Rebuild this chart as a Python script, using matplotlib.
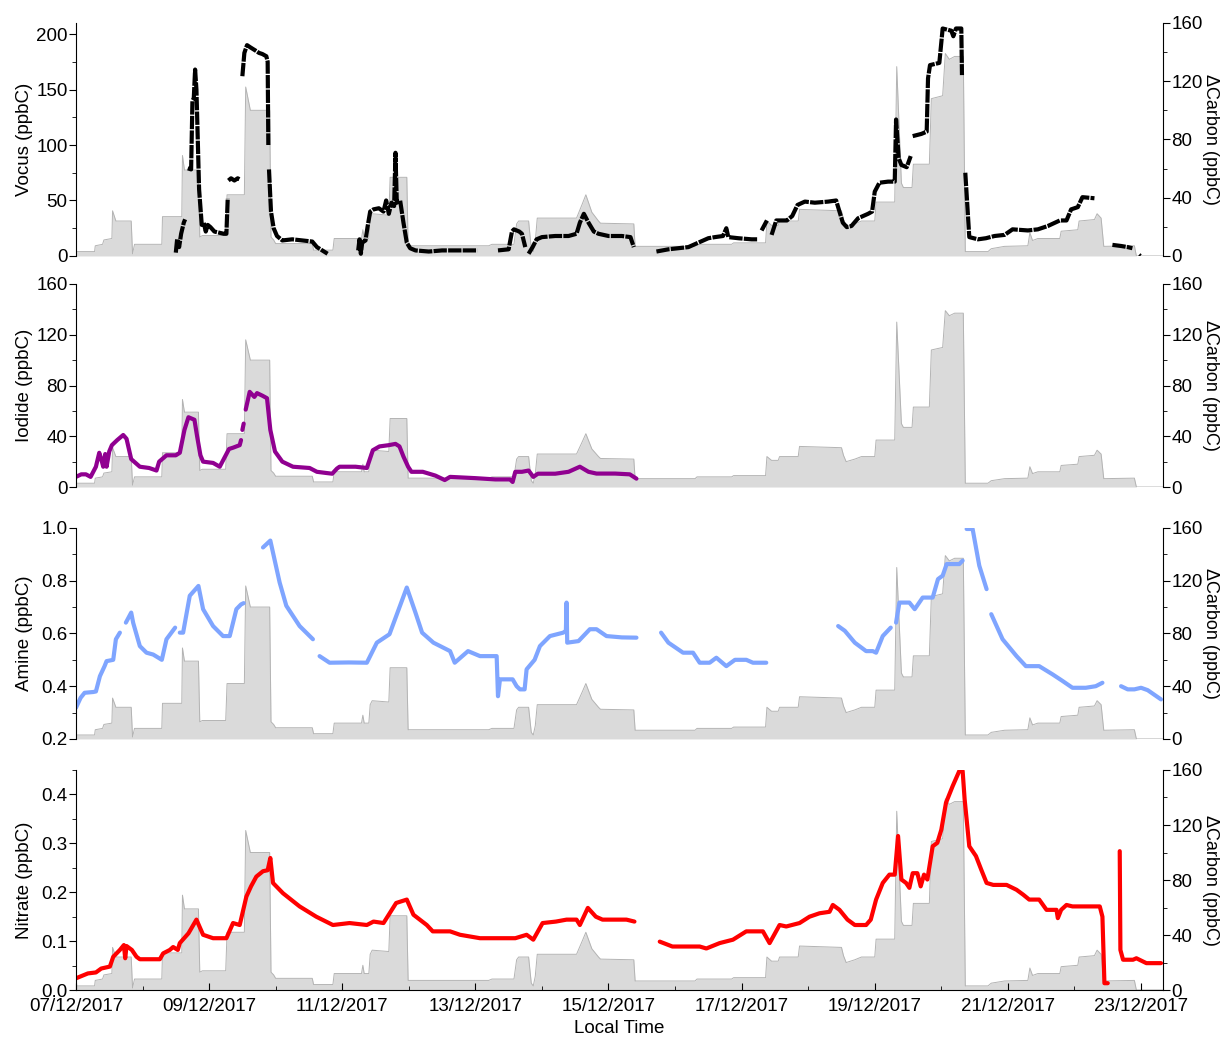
import numpy as np
import pandas as pd
import matplotlib
matplotlib.use('Agg')
import matplotlib.pyplot as plt
import matplotlib.dates as mdates
from matplotlib.ticker import AutoMinorLocator, MultipleLocator, FormatStrFormatter

plt.rcParams['font.family'] = ['Liberation Sans', 'DejaVu Sans']
plt.rcParams['font.size'] = 13.5

nan = np.nan
T0 = pd.Timestamp('2017-12-07')

# dCarbon (ppbC), days since 07/12/2017 00:00
carbon_t = [0.00, 0.28, 0.29, 0.40, 0.42, 0.54, 0.55, 0.60, 0.83, 0.85, 0.88, 1.29, 1.30, 1.59, 1.60, 1.63,
            1.84, 1.86, 1.90, 2.25, 2.27, 2.53, 2.55, 2.62, 2.91, 2.93, 2.97, 3.00, 3.55, 3.57, 3.86, 3.88,
            4.29, 4.31, 4.33, 4.40, 4.42, 4.45, 4.70, 4.72, 4.97, 4.99, 6.20, 6.25, 6.58, 6.62, 6.65, 6.80,
            6.84, 6.87, 6.90, 6.93, 7.52, 7.60, 7.66, 7.75, 7.85, 7.88, 8.38, 8.40, 9.30, 9.33, 9.85, 9.88,
            10.36, 10.38, 10.45, 10.55, 10.57, 10.85, 10.87, 11.50, 11.53, 11.57, 11.70, 11.80, 12.00, 12.02,
            12.30, 12.33, 12.40, 12.43, 12.56, 12.58, 12.82, 12.85, 13.02, 13.06, 13.12, 13.20, 13.33, 13.36,
            13.70, 13.75, 13.95, 14.30, 14.33, 14.37, 14.45, 14.78, 14.80, 15.05, 15.07, 15.30, 15.34, 15.40,
            15.44, 15.90, 15.93, 16.33]
carbon_v = [3, 3, 7, 8, 11, 12, 31, 24, 24, 1.5, 8, 8, 27, 27, 69, 59,
            59, 13, 14, 14, 42, 42, 116, 100, 100, 13, 11, 8.5, 8.5, 4, 4, 12,
            12, 18, 12, 12, 26, 29, 28, 54, 54, 7, 7, 8, 8, 22, 24, 24,
            5, 3, 10, 26, 26, 35, 42, 30, 24, 22.5, 22, 6.6, 6.6, 8, 8, 9,
            9, 24, 21, 21, 24, 24, 32, 31, 25, 20, 22, 24, 24, 37,
            37, 130, 50, 47, 47, 63, 63, 108, 110, 139, 135, 137, 137, 3,
            3, 5, 6.6, 7, 16, 10.6, 12, 12, 17, 18, 24, 25, 29, 26,
            6.6, 7, 0, 0]

vocus_t = [1.50, 1.52, 1.55, 1.58, 1.62, 1.64, nan,
           1.68, 1.73, 1.75, 1.77, 1.79, 1.81, 1.85, 1.89, 1.92, 1.95, 1.98, 2.02, 2.08, 2.15, 2.22, 2.26, 2.28, nan,
           2.29, 2.33, 2.38, 2.43, 2.46, nan,
           2.50, 2.53, 2.57, 2.62, 2.70, 2.75, 2.80, 2.86, 2.88, 2.89, nan,
           2.90, 2.93, 2.97, 3.02, 3.10, 3.25, 3.40, 3.55, 3.62, 3.70, 3.78, nan,
           4.24, 4.26, 4.28, 4.30, 4.35, 4.38, 4.42, 4.47, 4.55, 4.62, 4.66, 4.70, 4.74, 4.78, 4.80, 4.82, 4.87,
           4.92, 4.97, 5.02, 5.10, 5.30, 5.50, 5.80, 6.03, nan,
           6.34, 6.50, 6.55, 6.58, 6.66, 6.70, 6.75, nan,
           6.80, 6.86, 6.92, 7.00, 7.20, 7.40, 7.52, 7.57, 7.63, 7.70, 7.78, 7.85, 8.00, 8.20, 8.33, 8.38, nan,
           8.72, 8.90, 9.05, 9.20, 9.35, 9.50, 9.60, 9.72, 9.77, 9.80, 9.95, 10.15, 10.25, nan,
           10.30, 10.38, nan,
           10.45, 10.52, 10.68, 10.76, 10.84, 10.95, 11.10, 11.30, 11.42, 11.47, 11.52, 11.58, 11.65, 11.75,
           11.90, 11.96, 12.00, 12.07, 12.20, 12.30, 12.32, 12.36, 12.40, 12.48, 12.54, nan,
           12.57, 12.70, 12.78, 12.80, 12.83, 12.97, 13.02, 13.15, 13.18, 13.22, 13.30, 13.31, nan,
           13.36, 13.42, 13.55, 13.67, 13.80, 13.95, 14.07, 14.30, 14.45, 14.60, 14.78, 14.88, 14.95, 15.05,
           15.12, 15.30, nan,
           15.57, 15.70, 15.80, 15.87, nan, 15.97, 15.99]
vocus_v = [3, 15, 8, 20, 30, 33, nan,
           79, 78, 140, 142, 168, 150, 60, 28, 30, 22, 28, 26, 22, 21, 20, 20, 52, nan,
           68, 70, 68, 70, 69, nan,
           162, 183, 190, 188, 185, 183, 182, 180, 175, 100, nan,
           78, 40, 25, 18, 14, 15, 14, 13, 8, 5, 2, nan,
           5, 15, 2, 12, 14, 26, 40, 42, 43, 40, 50, 38, 48, 45, 93, 48, 50,
           30, 12, 7, 5, 4, 5, 5, 5, nan,
           5, 6, 22, 24, 22, 20, 8, nan,
           2, 8, 15, 17, 18, 18, 20, 30, 38, 30, 22, 20, 18, 18, 17, 8, nan,
           4, 6, 7, 8, 12, 16, 17, 18, 25, 17, 16, 15, 15, nan,
           23, 32, nan,
           19, 32, 32, 36, 46, 49, 48, 49, 50, 40, 30, 26, 27, 34,
           38, 40, 58, 66, 67, 67, 123, 88, 82, 80, 90, nan,
           108, 110, 112, 160, 172, 174, 205, 203, 198, 205, 205, 163, nan,
           75, 17, 15, 16, 18, 19, 24, 23, 24, 27, 32, 32, 42, 44,
           53, 52, nan,
           10, 9, 8, 7, nan, 1, 0]

iodide_t = [0.00, 0.08, 0.15, 0.22, 0.30, 0.35, 0.38, 0.41, 0.44, 0.46, 0.50, 0.54, 0.62, 0.71, 0.76, 0.83,
            0.96, 1.10, 1.21, 1.25, 1.36, 1.50, 1.56, 1.63, 1.69, 1.78, 1.82, 1.87, 1.91, 2.06, 2.16, 2.22,
            2.30, 2.36, 2.46, 2.48, nan, 2.50, 2.52, nan, 2.55, 2.61, 2.68, 2.72, 2.80, 2.87, 2.92, 2.99,
            3.10, 3.26, 3.51, 3.62, 3.77, 3.85, 3.92, 3.96, 4.20, 4.37, 4.46, 4.56, 4.70, 4.80, 4.86, 4.92,
            4.99, 5.04, 5.21, 5.40, 5.54, 5.62, 6.00, 6.30, 6.52, 6.56, 6.60, 6.70, 6.80, 6.87, 6.94, 7.20,
            7.40, 7.57, 7.70, 7.82, 8.10, 8.32, 8.42]
iodide_v = [8, 10, 10, 8, 16, 27, 22, 16, 26, 16, 28, 33, 37, 41, 38, 22,
            16, 15, 13, 20, 25, 25, 27, 45, 55, 53, 40, 25, 20, 19, 16, 22,
            30, 31, 33, 37, nan, 45, 50, nan, 61, 75, 71, 74, 72, 70, 45, 28,
            20, 16, 15, 12, 11, 10.5, 14.5, 16, 16, 15, 29, 32, 33, 34, 32, 24,
            16, 12, 12, 9, 5.5, 8, 7, 6, 6, 4, 12, 12, 13, 8, 10.5, 10.5,
            12, 16, 12, 10.6, 10.6, 10, 6.6]

amine_t = [0.00, 0.07, 0.13, 0.26, 0.30, 0.36, 0.43, 0.46, 0.56, 0.60, 0.66, nan,
           0.75, 0.83, 0.86, 0.96, 1.06, 1.16, 1.29, 1.36, 1.49, nan,
           1.56, 1.61, 1.71, 1.84, 1.91, 2.06, 2.21, 2.31, 2.41, 2.48, 2.52, nan,
           2.81, 2.92, 3.06, 3.16, 3.36, 3.56, nan,
           3.66, 3.81, 4.10, 4.37, 4.52, 4.71, 4.97, 5.10, 5.20, 5.37, 5.62, 5.69, 5.89, 6.07, 6.32, 6.34,
           6.37, 6.56, 6.62, 6.67, 6.74, 6.77, 6.89, 6.97, 7.12, 7.32, 7.36, 7.37, 7.38, 7.55, 7.72, 7.82,
           7.97, 8.20, 8.42, nan,
           8.79, 8.90, 9.12, 9.27, 9.37, 9.52, 9.62, 9.77, 9.90, 10.07, 10.17, 10.37, nan,
           11.45, 11.55, 11.70, 11.87, 11.97, 12.02, 12.12, 12.24, nan,
           12.32, 12.37, 12.52, 12.60, 12.72, 12.87, 12.95, 13.02, 13.08, 13.27, 13.32, nan,
           13.38, 13.47, 13.57, 13.68, nan,
           13.75, 13.92, 14.13, 14.27, 14.47, 14.67, 14.82, 14.97, 15.17, 15.32, 15.42, nan,
           15.70, 15.80, 15.90, 16.00, 16.10, 16.30]
amine_v = [0.318, 0.356, 0.375, 0.378, 0.38, 0.438, 0.476, 0.495, 0.50, 0.578, 0.603, nan,
           0.641, 0.679, 0.64, 0.552, 0.527, 0.52, 0.50, 0.578, 0.622, nan,
           0.603, 0.603, 0.743, 0.78, 0.692, 0.628, 0.59, 0.59, 0.692, 0.71, 0.715, nan,
           0.926, 0.952, 0.793, 0.705, 0.628, 0.578, nan,
           0.514, 0.489, 0.49, 0.489, 0.565, 0.597, 0.774, 0.679, 0.603, 0.565, 0.533, 0.489, 0.533, 0.514, 0.514, 0.362,
           0.426, 0.426, 0.40, 0.388, 0.388, 0.464, 0.50, 0.552, 0.59, 0.603, 0.61, 0.717, 0.565, 0.571, 0.616, 0.616,
           0.59, 0.585, 0.584, nan,
           0.603, 0.565, 0.527, 0.527, 0.489, 0.489, 0.508, 0.476, 0.50, 0.50, 0.489, 0.489, nan,
           0.628, 0.61, 0.565, 0.533, 0.533, 0.527, 0.59, 0.622, nan,
           0.641, 0.717, 0.717, 0.692, 0.736, 0.736, 0.806, 0.819, 0.863, 0.863, 0.876, nan,
           0.996, 0.996, 0.857, 0.768, nan,
           0.673, 0.578, 0.514, 0.476, 0.476, 0.445, 0.42, 0.394, 0.394, 0.40, 0.413, nan,
           0.40, 0.388, 0.388, 0.394, 0.385, 0.35]

nitrate_t = [0.00, 0.18, 0.30, 0.38, 0.51, 0.56, 0.66, 0.72, 0.74, 0.76, 0.84, 0.91, 0.96, 1.26, 1.31, 1.41,
             1.46, 1.53, 1.56, 1.69, 1.81, 1.91, 2.06, 2.26, 2.36, 2.46, 2.56, 2.63, 2.71, 2.81, 2.88, 2.92,
             2.96, 3.11, 3.36, 3.61, 3.86, 4.11, 4.37, 4.47, 4.62, 4.81, 4.97, 5.07, 5.27, 5.36, 5.62, 5.77,
             6.07, 6.60, 6.77, 6.87, 7.01, 7.21, 7.37, 7.52, 7.57, 7.69, 7.81, 7.91, 8.27, 8.39, nan,
             8.77, 8.96, 9.37, 9.47, 9.67, 9.87, 10.07, 10.32, 10.42, 10.57, 10.67, 10.87, 11.02, 11.17, 11.32,
             11.37, 11.47, 11.59, 11.70, 11.87, 11.94, 12.02, 12.12, 12.22, 12.30, 12.35, 12.40, 12.47, 12.52,
             12.57, 12.64, 12.69, 12.74, 12.79, 12.87, 12.94, 13.00, 13.07, 13.17, 13.27, 13.32, 13.35, 13.42,
             13.52, 13.60, 13.68, 13.78, 13.98, 14.13, 14.23, 14.32, 14.47, 14.58, 14.73, 14.75, 14.80, 14.88,
             14.97, 15.38, 15.42, 15.45, 15.50, nan,
             15.68, 15.69, 15.73, 15.88, 15.93, 16.08, 16.30]
nitrate_v = [0.024, 0.034, 0.036, 0.044, 0.048, 0.068, 0.082, 0.092, 0.065, 0.09, 0.082, 0.068, 0.063, 0.063, 0.075, 0.082,
             0.088, 0.082, 0.096, 0.116, 0.144, 0.113, 0.106, 0.106, 0.137, 0.133, 0.191, 0.212, 0.232, 0.243, 0.245, 0.27,
             0.219, 0.198, 0.171, 0.15, 0.133, 0.137, 0.133, 0.14, 0.137, 0.178, 0.185, 0.154, 0.133, 0.12, 0.12, 0.113,
             0.106, 0.106, 0.113, 0.103, 0.137, 0.14, 0.144, 0.144, 0.133, 0.168, 0.15, 0.144, 0.144, 0.14, nan,
             0.099, 0.089, 0.089, 0.085, 0.096, 0.103, 0.12, 0.12, 0.096, 0.133, 0.13, 0.137, 0.15, 0.157, 0.16,
             0.174, 0.164, 0.144, 0.133, 0.133, 0.144, 0.185, 0.219, 0.236, 0.236, 0.315, 0.226, 0.219, 0.209,
             0.239, 0.239, 0.212, 0.236, 0.226, 0.294, 0.301, 0.328, 0.383, 0.417, 0.448, 0.448, 0.39, 0.294,
             0.274, 0.246, 0.219, 0.215, 0.215, 0.205, 0.195, 0.185, 0.185, 0.164, 0.164, 0.147, 0.164, 0.174,
             0.171, 0.171, 0.15, 0.014, 0.014, nan,
             0.284, 0.082, 0.062, 0.062, 0.065, 0.055, 0.055]


def to_time(days):
    return T0 + pd.to_timedelta(np.nan_to_num(np.array(days, dtype=float), nan=0.0), unit='D')


def series(days, vals):
    t = to_time(days)
    v = np.array(vals, dtype=float)
    v[np.isnan(np.array(days, dtype=float))] = np.nan
    return t, v


fig = plt.figure(figsize=(12.21, 10.38), dpi=100)

left, width = 0.0622, 0.8903
panels = [
    # bottom, height, label, ylim, step, fmt
    (0.7534, 0.2245, 'Vocus (ppbC)', (0, 210), 50, '%d'),
    (0.5308, 0.1956, 'Iodide (ppbC)', (0, 160), 40, '%d'),
    (0.2881, 0.2033, 'Amine (ppbC)', (0.2, 1.0), 0.2, '%.1f'),
    (0.0462, 0.2120, 'Nitrate (ppbC)', (0, 0.45), 0.1, '%.1f'),
]
lines = [
    (series(vocus_t, vocus_v), 'black', 3.0, True),
    (series(iodide_t, iodide_v), '#900090', 3.0, False),
    (series(amine_t, amine_v), '#7fa5ff', 3.0, False),
    (series(nitrate_t, nitrate_v), '#ff0000', 3.0, False),
]

ct = to_time(carbon_t)
x_end = T0 + pd.Timedelta(days=16.33)

for i, (bottom, height, label, ylim, step, fmt) in enumerate(panels):
    ax = fig.add_axes([left, bottom, width, height])
    axr = ax.twinx()
    axr.fill_between(ct, carbon_v, 0, color='#dadada', lw=0)
    axr.plot(ct, carbon_v, color='#b3b3b3', lw=0.7)
    axr.set_ylim(0, 160)
    axr.yaxis.set_major_locator(MultipleLocator(40))
    axr.yaxis.set_minor_locator(MultipleLocator(20))
    axr.set_ylabel('ΔCarbon (ppbC)', rotation=270, va='center', fontsize=13)
    axr.yaxis.set_label_coords(1.044, 0.5)
    ax.set_zorder(axr.get_zorder() + 1)
    ax.patch.set_visible(False)

    (t, v), color, lw, dashed = lines[i]
    ln, = ax.plot(t, v, color=color, lw=lw, solid_capstyle='round')
    if dashed:
        ln.set_dashes((3.2, 0.3))

    ax.set_ylim(*ylim)
    ax.yaxis.set_major_locator(MultipleLocator(step))
    ax.yaxis.set_minor_locator(AutoMinorLocator(2))
    ax.yaxis.set_major_formatter(FormatStrFormatter(fmt))
    ax.set_ylabel(label, va='center')
    ax.yaxis.set_label_coords(-0.047, 0.5)
    ax.set_xlim(T0, x_end)
    axr.set_xlim(T0, x_end)

    for a in (ax, axr):
        a.spines['top'].set_visible(False)
    ax.spines['right'].set_visible(False)
    axr.spines['left'].set_visible(False)
    ax.tick_params(axis='y', which='major', direction='out', length=5, pad=1)
    ax.tick_params(axis='y', which='minor', direction='out', length=3)
    axr.tick_params(axis='y', which='major', direction='out', length=5, pad=1)
    axr.tick_params(axis='y', which='minor', direction='out', length=3)

    if i < 3:
        for a in (ax, axr):
            a.spines['bottom'].set_visible(False)
            a.tick_params(axis='x', which='both', bottom=False, labelbottom=False)
    else:
        axr.spines['bottom'].set_visible(False)
        axr.tick_params(axis='x', which='both', bottom=False, labelbottom=False)
        ax.xaxis.set_major_locator(mdates.DayLocator(bymonthday=range(7, 24, 2)))
        ax.xaxis.set_minor_locator(mdates.DayLocator())
        ax.xaxis.set_major_formatter(mdates.DateFormatter('%d/%m/%Y'))
        ax.tick_params(axis='x', which='major', direction='in', length=5, pad=6)
        ax.tick_params(axis='x', which='minor', direction='in', length=3)
        ax.set_xlabel('Local Time', labelpad=3)

fig.savefig('out.png', dpi=100)
